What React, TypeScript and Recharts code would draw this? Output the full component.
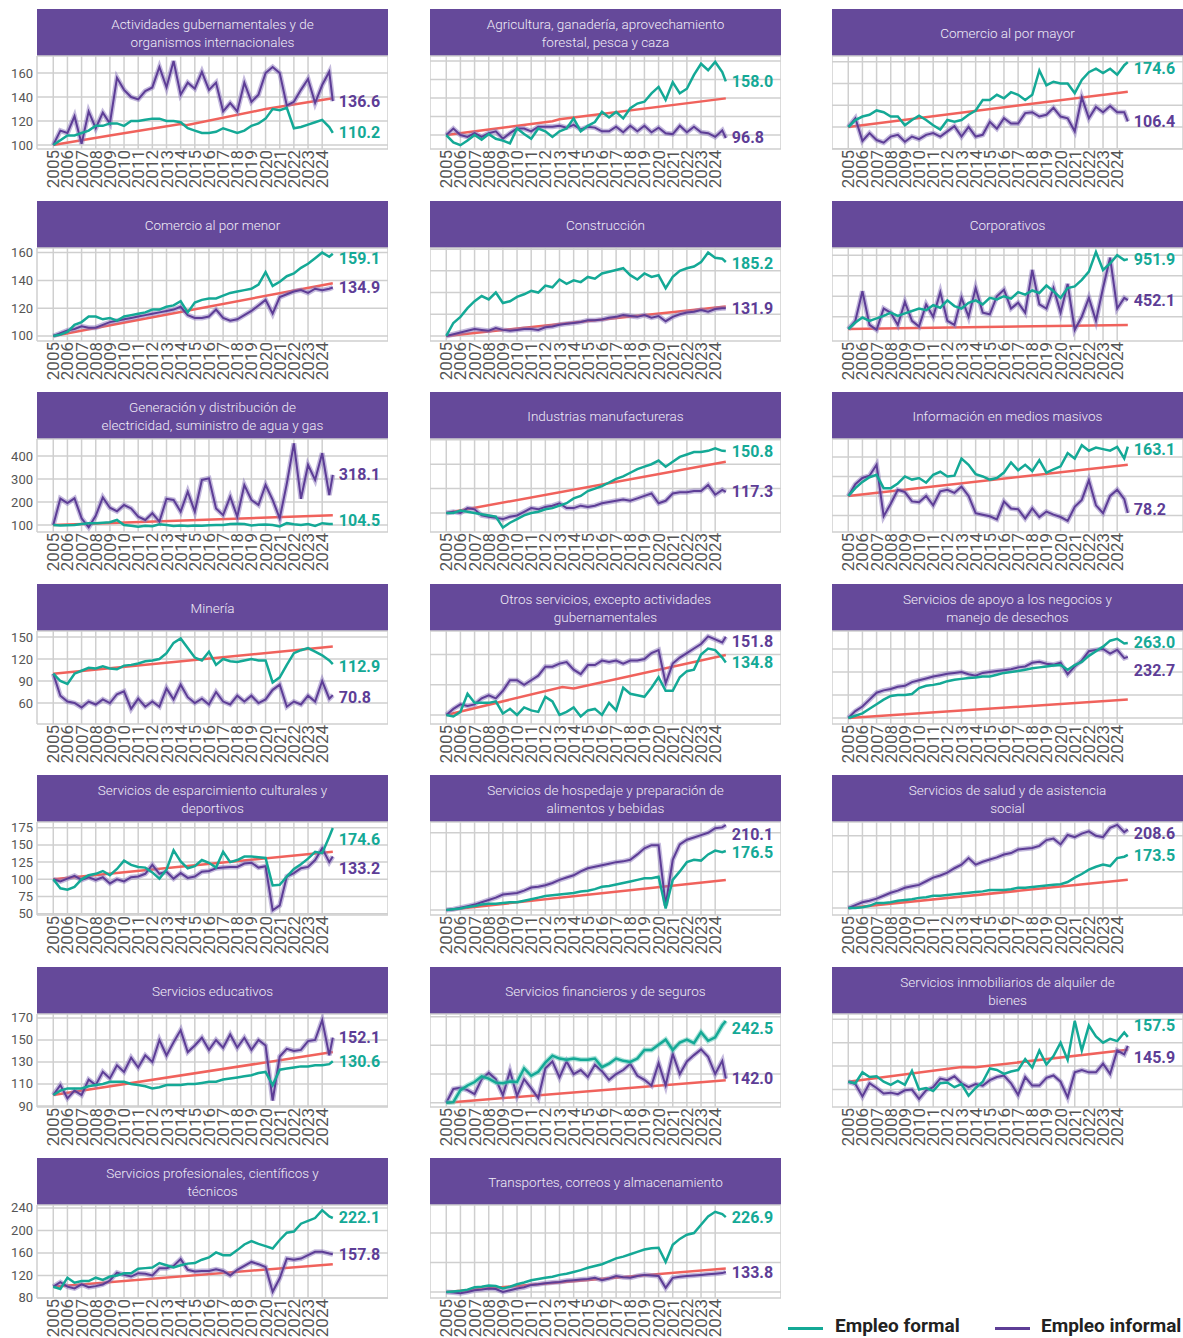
import React from "react";
import { LineChart, Line, XAxis, YAxis, CartesianGrid } from "recharts";

// half-year sampling, last point is the latest quarter
const YEARS = [2005, 2005.5, 2006, 2006.5, 2007, 2007.5, 2008, 2008.5, 2009, 2009.5, 2010, 2010.5, 2011, 2011.5, 2012, 2012.5, 2013, 2013.5, 2014, 2014.5, 2015, 2015.5, 2016, 2016.5, 2017, 2017.5, 2018, 2018.5, 2019, 2019.5, 2020, 2020.5, 2021, 2021.5, 2022, 2022.5, 2023, 2023.5, 2024, 2024.5, 2024.75];
const YEAR_TICKS = [2005, 2006, 2007, 2008, 2009, 2010, 2011, 2012, 2013, 2014, 2015, 2016, 2017, 2018, 2019, 2020, 2021, 2022, 2023, 2024];

const gobFormal = [100,104,108,108,110,112,116,116,118,118,116,120,120,121,122,122,120,120,119,114,112,110,110,111,114,112,110,112,116,118,122,130,129,131,114,115,117,119,121,115,110.2];
const gobInformal = [100,112,110,124,101,128,114,127,118,156,146,140,138,145,148,165,148,170,142,152,147,161,146,152,128,135,128,152,136,142,160,165,160,133,136,146,155,135,150,161,136.6];
const gobTrend = [[2005,100],[2009,108],[2014,117.5],[2014.4,116.5],[2020,130],[2024.75,139]];

const agriFormal = [100,92,89,94,100,95,101,96,94,91,107,101,96,107,104,98,104,107,118,104,110,114,125,119,125,118,129,134,136,145,152,138,157,145,150,165,177,170,179,168,158];
const agriInformal = [100,107,100,98,102,98,102,104,96,102,107,107,104,109,109,109,110,108,111,106,109,108,104,104,109,103,110,104,110,103,108,102,101,110,103,109,103,102,98,105,96.8];
const agriTrend = [[2005,100],[2012.5,115],[2013,117],[2024.75,139.6]];

const mayorFormal = [100,108,112,114,119,117,112,112,102,108,113,108,102,97,108,106,108,114,119,131,131,137,133,140,137,131,137,165,148,152,150,150,139,154,163,167,162,167,160,171,174.6];
const mayorInformal = [100,110,84,93,85,82,89,91,83,89,86,91,93,89,95,101,89,100,89,91,106,98,110,104,104,116,117,112,114,122,112,110,95,134,110,123,117,124,117,117,106.4];
const mayorTrend = [[2005,100],[2024.75,140.6]];

const menorFormal = [100,101,103,108,110,114,114,112,113,111,114,115,116,117,119,119,121,122,125,117,124,126,127,127,129,131,132,133,134,137,146,136,139,143,145,149,152,156,160,157,159.1];
const menorInformal = [100,102,104,105,107,106,106,108,110,111,112,113,114,115,116,117,118,119,121,115,113,113,114,119,113,111,112,115,118,122,126,116,128,130,132,133,131,134,133,134,134.9];
const menorTrend = [[2005,100],[2024.75,138]];

const consFormal = [100,115,122,132,140,146,142,150,138,140,145,148,152,150,158,156,165,160,164,162,168,166,172,174,176,178,170,165,172,168,170,155,168,175,178,180,185,196,190,189,185.2];
const consInformal = [100,102,104,106,108,107,106,109,107,106,107,108,108,107,110,111,113,114,115,116,118,118,119,121,122,124,123,122,124,121,123,117,122,125,127,128,130,128,131,132,131.9];
const consTrend = [[2005,100],[2024.75,134]];

const corpFormal = [100,180,240,200,230,260,300,260,290,320,350,330,390,360,450,380,350,420,450,400,480,460,500,470,550,520,570,540,630,560,480,600,620,700,800,1040,820,900,1000,940,951.9];
const corpInformal = [100,200,560,150,90,350,300,150,430,200,130,400,250,550,200,150,480,250,600,300,280,500,580,350,420,300,820,400,350,600,300,650,90,250,480,200,600,970,350,480,452.1];
const corpTrend = [[2005,100],[2024.75,150]];

const elecFormal = [100,98,99,100,104,108,108,110,112,122,100,97,93,97,95,103,100,96,98,96,98,97,99,100,100,104,106,104,98,101,102,100,94,108,103,100,104,96,108,104,104.5];
const elecInformal = [100,215,195,216,129,90,140,220,175,160,187,172,136,122,151,115,214,209,158,245,158,296,303,172,143,223,136,274,209,187,274,209,129,280,455,214,361,296,412,230,318.1];
const elecTrend = [[2005,100],[2024.75,142]];

const manuFormal = [100,100,102,101,100,99,98,97,88,92,95,98,100,101,103,104,106,108,112,114,118,120,122,125,128,130,133,136,138,140,143,138,142,146,148,150,150,151,153,151,150.8];
const manuInformal = [100,101,100,104,103,98,97,96,95,97,98,101,104,103,105,106,108,104,104,106,105,106,108,109,110,111,110,112,114,116,108,110,116,117,117,118,118,123,115,119,117.3];
const manuTrend = [[2005,100],[2024.75,142]];

const infoFormal = [100,110,118,124,127,110,110,116,125,121,123,117,127,131,125,126,148,140,128,125,121,123,130,143,133,140,132,146,130,134,138,155,148,165,158,162,160,158,163,148,163.1];
const infoInformal = [100,115,123,126,140,74,90,108,105,93,92,100,88,106,108,104,112,100,78,76,74,70,93,84,83,71,84,73,80,76,73,68,86,95,120,88,78,100,108,96,78.2];
const infoTrend = [[2005,100],[2024.75,140]];

const minFormal = [100,90,86,100,104,108,107,110,107,106,111,112,114,117,118,120,128,142,148,135,122,118,130,112,120,117,116,118,120,118,118,88,95,112,128,132,135,130,125,118,112.9];
const minInformal = [100,70,62,60,54,62,58,65,60,72,76,52,66,55,62,55,80,65,85,68,60,66,58,75,62,58,70,62,70,60,65,78,85,55,62,58,70,62,90,66,70.8];
const minTrend = [[2005,100],[2024.75,137]];

const otrosFormal = [100,99,102,114,108,108,108,109,101,104,100,105,103,102,112,109,100,102,105,99,103,104,100,108,103,118,114,113,112,118,125,116,116,125,129,130,140,144,143,138,134.8];
const otrosInformal = [100,104,107,106,107,111,113,111,116,123,123,120,123,126,132,132,134,135,130,127,133,133,136,135,136,134,136,136,137,141,143,121,134,138,141,144,147,152,150,148,151.8];
const otrosTrend = [[2005,100],[2013.2,118.5],[2014,117.5],[2024.75,139.7]];

const apoyoFormal = [100,105,110,120,130,140,148,150,150,152,165,170,172,175,180,183,185,187,188,190,190,194,198,200,202,205,208,210,212,214,215,205,215,222,235,245,255,268,272,262,263];
const apoyoInformal = [100,115,125,140,155,160,163,168,170,178,182,186,190,193,196,198,200,195,192,198,200,202,204,206,210,212,220,222,218,216,220,195,212,225,245,248,250,240,248,230,232.7];
const apoyoTrend = [[2005,100],[2024.75,140]];

const espFormal = [100,87,85,89,100,106,108,112,106,115,127,121,118,117,110,101,114,142,126,116,119,128,124,117,140,125,128,133,133,132,131,91,92,104,115,122,130,140,138,162,174.6];
const espInformal = [100,97,101,105,99,103,99,103,94,100,97,103,104,108,121,108,111,101,109,102,104,111,112,116,117,118,118,123,124,117,119,55,62,104,109,116,118,128,145,125,133.2];
const espTrend = [[2005,100],[2024.75,140]];

const hospFormal = [100,101,102,104,105,107,108,108,109,110,110,112,114,116,118,119,120,121,122,124,125,127,130,131,133,135,137,139,141,141,143,102,139,150,162,165,164,172,177,175,176.5];
const hospInformal = [100,101,103,105,107,110,113,116,120,121,122,125,129,130,132,135,139,142,145,150,154,156,158,160,162,163,165,172,180,184,184,106,165,185,191,194,197,200,206,207,210.1];
const hospTrend = [[2005,100],[2024.75,139]];

const saludFormal = [100,100,101,103,107,107,108,110,111,112,114,115,117,117,118,119,120,121,122,123,125,125,125,126,128,128,129,130,131,132,133,136,142,147,153,157,160,158,169,171,173.5];
const saludInformal = [100,104,108,110,113,117,121,124,128,130,132,137,142,145,149,155,160,169,160,164,167,170,174,176,181,182,183,186,194,196,188,201,198,203,206,200,198,211,215,205,208.6];
const saludTrend = [[2005,100],[2024.75,139]];

const eduFormal = [100,104,106,106,106,108,109,110,112,112,112,110,109,108,106,107,109,109,109,110,110,111,112,112,114,115,116,117,118,120,121,109,123,124,125,126,126,127,127,128,130.6];
const eduInformal = [100,109,97,104,100,114,109,121,115,127,121,134,125,136,130,150,136,148,159,139,145,152,141,150,143,155,143,152,141,150,145,95,135,142,140,141,149,150,168,136,152.1];
const eduTrend = [[2005,100],[2024.75,139]];

const finFormal = [100,101,122,130,136,146,142,135,134,137,136,160,147,154,170,182,177,175,177,175,175,177,162,168,177,173,171,177,192,192,201,210,192,205,210,204,223,208,214,235,242.5];
const finInformal = [100,124,126,122,115,141,152,141,113,155,112,141,125,108,160,172,144,172,150,157,145,166,155,140,150,157,168,147,140,130,169,130,185,150,172,183,193,180,150,173,142.0];
const finTrend = [[2005,100],[2024.75,139]];

const inmoFormal = [100,98,112,106,107,100,96,101,96,114,90,92,88,98,99,93,97,82,92,100,117,115,110,113,115,129,118,140,122,133,150,128,178,140,172,158,150,155,152,163,157.5];
const inmoInformal = [100,97,81,98,92,85,86,84,89,90,78,89,93,104,102,107,98,93,97,95,102,106,108,98,83,106,95,95,105,108,100,80,112,115,112,112,123,110,140,135,145.9];
const inmoTrend = [[2005,100],[2013,119],[2014,118.5],[2024.75,141]];

const profFormal = [100,96,116,107,110,110,116,112,118,120,124,124,132,133,134,142,138,134,138,141,142,148,152,161,156,156,165,175,181,176,172,168,183,196,198,212,217,222,236,225,222.1];
const profInformal = [100,108,100,97,104,99,101,104,111,125,121,118,124,123,120,133,133,137,149,130,127,128,128,131,128,120,130,137,144,140,135,91,115,150,148,150,156,162,162,159,157.8];
const profTrend = [[2005,100],[2024.75,140]];

const transFormal = [100,101,102,104,108,109,111,110,106,109,113,116,120,122,124,126,129,131,134,137,141,144,147,152,157,160,164,168,172,174,175,151,180,190,197,200,214,228,236,232,226.9];
const transInformal = [100,99,98,100,103,104,106,105,100,103,106,108,112,113,115,116,117,119,120,121,122,124,120,123,127,125,124,127,129,128,127,107,124,126,127,128,129,130,131,132,133.8];
const transTrend = [[2005,100],[2024.75,140]];

const TEAL = "#14a996";
const PURPLE = "#5d3d96";
const RED = "#f0625c";
const HEADER = "#65499a";

const PANELS = [
  { title: ["Actividades gubernamentales y de", "organismos internacionales"], f: gobFormal, i: gobInformal, t: gobTrend, domain: [96.7, 174.2], ticks: [100, 120, 140, 160], fdy: 0, idy: 0 },
  { title: ["Agricultura, ganadería, aprovechamiento", "forestal, pesca y caza"], f: agriFormal, i: agriInformal, t: agriTrend, domain: [84.9, 185.4], ticks: [100, 120, 140, 160, 180], fdy: 0, idy: 0 },
  { title: ["Comercio al por mayor"], f: mayorFormal, i: mayorInformal, t: mayorTrend, domain: [74.7, 181.6], ticks: [75, 100, 125, 150, 175], fdy: 6, idy: 0 },
  { title: ["Comercio al por menor"], f: menorFormal, i: menorInformal, t: menorTrend, domain: [96.4, 163.3], ticks: [100, 120, 140, 160], fdy: 5, idy: 0 },
  { title: ["Construcción"], f: consFormal, i: consInformal, t: consTrend, domain: [94.2, 201.3], ticks: [100, 125, 150, 175, 200], fdy: 2, idy: 0 },
  { title: ["Corporativos"], f: corpFormal, i: corpInformal, t: corpTrend, domain: [-46, 1088], ticks: [250, 500, 750, 1000], fdy: 0, idy: 0 },
  { title: ["Generación y distribución de", "electricidad, suministro de agua y gas"], f: elecFormal, i: elecInformal, t: elecTrend, domain: [69.6, 474], ticks: [100, 200, 300, 400], fdy: -3, idy: 0 },
  { title: ["Industrias manufactureras"], f: manuFormal, i: manuInformal, t: manuTrend, domain: [84.4, 160.7], ticks: [100, 120, 140, 160], fdy: 0, idy: 0 },
  { title: ["Información en medios masivos"], f: infoFormal, i: infoInformal, t: infoTrend, domain: [53.8, 173], ticks: [75, 100, 125, 150], fdy: 3, idy: -3 },
  { title: ["Minería"], f: minFormal, i: minInformal, t: minTrend, domain: [31.4, 158.2], ticks: [60, 90, 120, 150], fdy: 2, idy: 2 },
  { title: ["Otros servicios, excepto actividades", "gubernamentales"], f: otrosFormal, i: otrosInformal, t: otrosTrend, domain: [94, 155.6], ticks: [100, 120, 140], fdy: 0, idy: 5 },
  { title: ["Servicios de apoyo a los negocios y", "manejo de desechos"], f: apoyoFormal, i: apoyoInformal, t: apoyoTrend, domain: [87, 289], ticks: [100, 150, 200, 250], fdy: 0, idy: 14 },
  { title: ["Servicios de esparcimiento culturales y", "deportivos"], f: espFormal, i: espInformal, t: espTrend, domain: [48.1, 183.3], ticks: [50, 75, 100, 125, 150, 175], fdy: 12, idy: 12 },
  { title: ["Servicios de hospedaje y preparación de", "alimentos y bebidas"], f: hospFormal, i: hospInformal, t: hospTrend, domain: [93.5, 214], ticks: [100, 150, 200], fdy: 2, idy: 9 },
  { title: ["Servicios de salud y de asistencia", "social"], f: saludFormal, i: saludInformal, t: saludTrend, domain: [90.3, 219], ticks: [100, 150, 200], fdy: 1, idy: 4 },
  { title: ["Servicios educativos"], f: eduFormal, i: eduInformal, t: eduTrend, domain: [89.1, 173.6], ticks: [90, 110, 130, 150, 170], fdy: 0, idy: 0 },
  { title: ["Servicios financieros y de seguros"], f: finFormal, i: finInformal, t: finTrend, domain: [92.5, 254.7], ticks: [100, 150, 200, 250], fdy: 8, idy: 0, fBand: true },
  { title: ["Servicios inmobiliarios de alquiler de", "bienes"], f: inmoFormal, i: inmoInformal, t: inmoTrend, domain: [67.6, 186.8], ticks: [90, 120, 150, 180], fdy: -11, idy: 12 },
  { title: ["Servicios profesionales, científicos y", "técnicos"], f: profFormal, i: profInformal, t: profTrend, domain: [79.9, 245.2], ticks: [80, 120, 160, 200, 240], fdy: 0, idy: 0 },
  { title: ["Transportes, correos y almacenamiento"], f: transFormal, i: transInformal, t: transTrend, domain: [89.8, 247.5], ticks: [100, 150, 200], fdy: 0, idy: 0 },
];

const COL_X = [37, 430, 832];
const ROW_T = [9, 201, 392, 584, 775, 967, 1158];
const PANEL_W = 351;
const TITLE_H = 47;
const Y_W = 29;
const TOP_PAD = 8; // room so the top tick label is not clipped
const FONT = "Roboto, 'Noto Sans', sans-serif";

const toPts = (vals: number[]) => YEARS.map((x, k) => ({ x, v: vals[k] }));
const pairPts = (pairs: number[][]) => pairs.map(([x, v]) => ({ x, v }));

const XTick = (props: any) => {
  const { x, y, payload } = props;
  return (
    <text x={x} y={y} transform={`rotate(-90 ${x} ${y})`} textAnchor="end" dominantBaseline="central" fontSize={17} fill="#555" fontFamily={FONT}>
      {payload.value}
    </text>
  );
};

const YTick = (props: any) => {
  const { x, y, payload } = props;
  return (
    <text x={x} y={y} textAnchor="end" dominantBaseline="central" fontSize={13} fill="#555" fontFamily={FONT}>
      {payload.value}
    </text>
  );
};

const endLabel = (color: string, dy: number, last: number) => (props: any) => {
  if (props.index !== last) return <g key={`l${props.index}`} />;
  return (
    <text key="end" x={props.x + 6} y={props.y + dy} fill={color} fontSize={16} fontWeight={700} fontFamily={FONT} dominantBaseline="central">
      {Number(props.value).toFixed(1)}
    </text>
  );
};

function Panel({ p, col, row }: { p: any; col: number; row: number }) {
  const top = ROW_T[row];
  const left = COL_X[col];
  const showY = col === 0;
  const w = PANEL_W + (showY ? Y_W : 0);
  const last = YEARS.length - 1;
  return (
    <>
      <div
        style={{
          position: "absolute",
          left,
          top,
          width: PANEL_W,
          height: TITLE_H,
          background: HEADER,
          color: "#f1edf7",
          fontSize: 13.5,
          lineHeight: "18px",
          fontWeight: 300,
          display: "flex",
          flexDirection: "column",
          alignItems: "center",
          justifyContent: "center",
          textAlign: "center",
        }}
      >
        {p.title.map((s: string) => (
          <div key={s}>{s}</div>
        ))}
      </div>
      <div style={{ position: "absolute", left: left - (showY ? Y_W : 0), top: top + TITLE_H - TOP_PAD }}>
        <LineChart width={w} height={135 + TOP_PAD} margin={{ top: TOP_PAD, right: 0, bottom: 0, left: 0 }}>
          <CartesianGrid stroke="#cfcfcf" strokeWidth={1.5} />
          <XAxis
            type="number"
            dataKey="x"
            domain={[2003.85, 2028.65]}
            ticks={YEAR_TICKS}
            interval={0}
            allowDataOverflow
            axisLine={false}
            tickLine={false}
            tickSize={0}
            tickMargin={1}
            height={42}
            tick={XTick}
          />
          <YAxis
            type="number"
            domain={p.domain}
            ticks={p.ticks}
            interval={0}
            allowDataOverflow
            hide={!showY}
            width={Y_W}
            axisLine={false}
            tickLine={false}
            tickSize={0}
            tickMargin={4}
            tick={YTick}
          />
          <Line data={pairPts(p.t)} dataKey="v" type="linear" stroke={RED} strokeWidth={2.5} dot={false} isAnimationActive={false} />
          <Line data={toPts(p.i)} dataKey="v" type="linear" stroke="#8a75bb" strokeOpacity={0.5} strokeWidth={5} dot={false} isAnimationActive={false} />
          <Line data={toPts(p.i)} dataKey="v" type="linear" stroke={PURPLE} strokeWidth={2} dot={false} isAnimationActive={false} label={endLabel(PURPLE, p.idy, last)} />
          {p.fBand && (
            <Line data={toPts(p.f)} dataKey="v" type="linear" stroke="#5cc7b6" strokeOpacity={0.5} strokeWidth={5} dot={false} isAnimationActive={false} />
          )}
          <Line data={toPts(p.f)} dataKey="v" type="linear" stroke={TEAL} strokeWidth={2.5} dot={false} isAnimationActive={false} label={endLabel(TEAL, p.fdy, last)} />
        </LineChart>
      </div>
    </>
  );
}

export default function App() {
  return (
    <div
      style={{
        position: "absolute",
        left: 0,
        top: 0,
        width: 1183,
        height: 1338,
        background: "#fff",
        fontFamily: FONT,
        overflow: "hidden",
      }}
    >
      {PANELS.map((p, k) => (
        <Panel key={k} p={p} col={k % 3} row={Math.floor(k / 3)} />
      ))}
      <div style={{ position: "absolute", left: 788, top: 1327, width: 35, height: 3, background: TEAL }} />
      <div style={{ position: "absolute", left: 835, top: 1315, fontSize: 19, lineHeight: "22px", fontWeight: 700, color: "#222", whiteSpace: "nowrap" }}>
        Empleo formal
      </div>
      <div style={{ position: "absolute", left: 995, top: 1327, width: 35, height: 3, background: PURPLE }} />
      <div style={{ position: "absolute", left: 1041, top: 1315, fontSize: 19, lineHeight: "22px", fontWeight: 700, color: "#222", whiteSpace: "nowrap" }}>
        Empleo informal
      </div>
    </div>
  );
}
